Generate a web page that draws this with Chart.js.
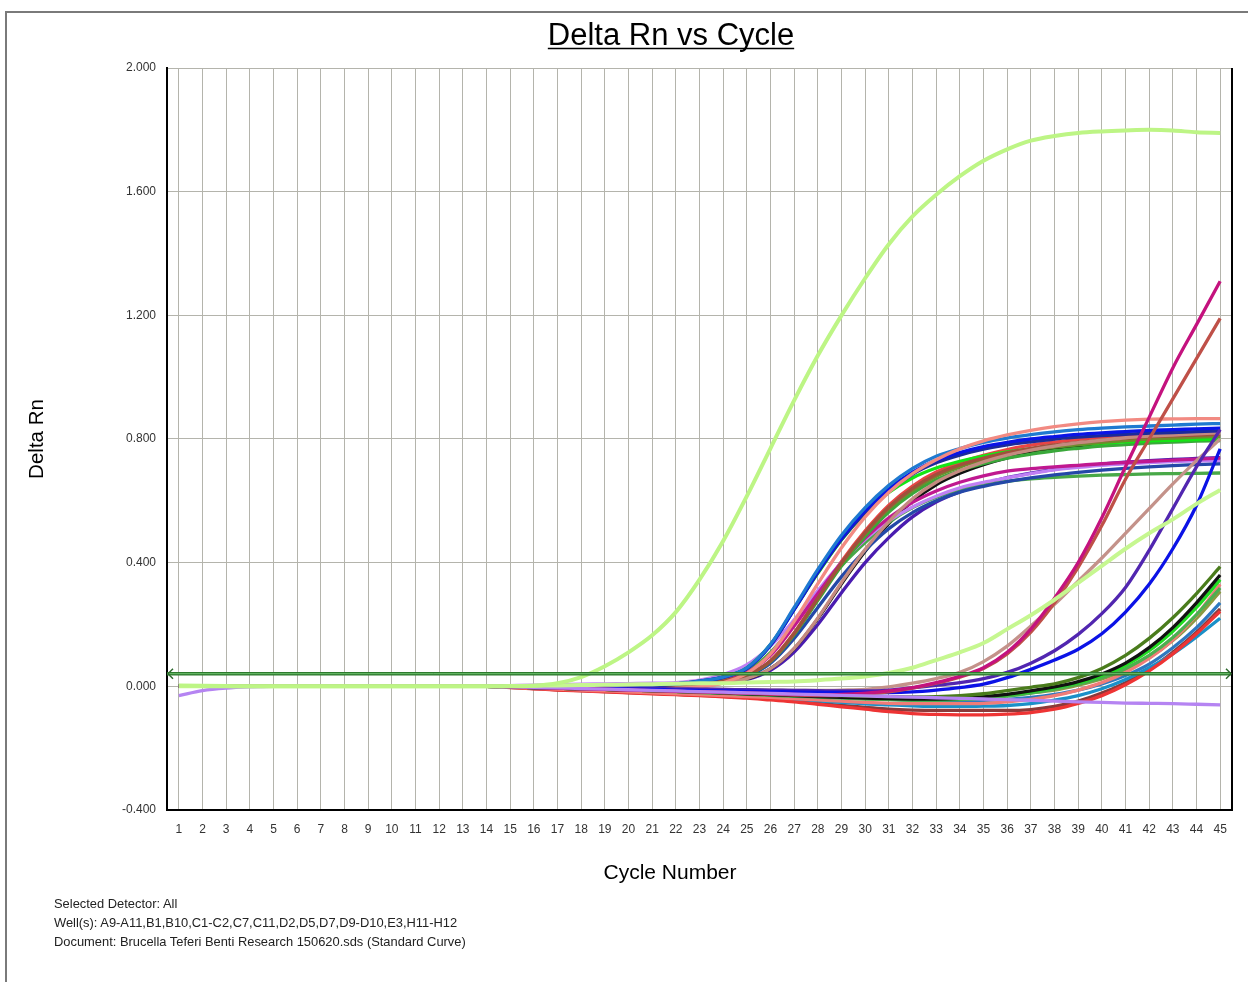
<!DOCTYPE html>
<html>
<head>
<meta charset="utf-8">
<title>Delta Rn vs Cycle</title>
<script src="https://cdn.jsdelivr.net/npm/chart.js@4.4.1/dist/chart.umd.min.js"></script>
<style>
  html, body { margin: 0; padding: 0; background: #fff; overflow: hidden; }
  #wrap { position: relative; width: 1248px; height: 982px; }
  #chart { position: absolute; left: 0; top: 0; }
  #frame { position: absolute; left: 5px; top: 11px; width: 1243px; height: 971px;
           border-top: 2px solid #7a7a7a; border-left: 2px solid #7a7a7a; box-sizing: border-box; pointer-events: none; }
  #info { position: absolute; left: 54px; top: 894px; font: 12.9px "Liberation Sans", Arial, sans-serif;
          color: #222; line-height: 19px; }
</style>
</head>
<body>
<div id="wrap">
  <canvas id="chart" width="1248" height="982"></canvas>
  <div id="frame"></div>
  <div id="info">
    <div>Selected Detector: All</div>
    <div>Well(s): A9-A11,B1,B10,C1-C2,C7,C11,D2,D5,D7,D9-D10,E3,H11-H12</div>
    <div>Document: Brucella Teferi Benti Research 150620.sds (Standard Curve)</div>
  </div>
</div>
<script>
// cycle numbers (x axis)
const cycles = [1,2,3,4,5,6,7,8,9,10,11,12,13,14,15,16,17,18,19,20,21,22,23,24,25,26,27,28,29,30,31,32,33,34,35,36,37,38,39,40,41,42,43,44,45];
const yTicks = [-0.4, 0, 0.4, 0.8, 1.2, 1.6, 2.0];
const thresholdValue = 0.041;

// early light green well
const lightGreenEarly = [0.003,0.002,0.001,0,0,0,0,0,0,0,0,0,0,0,
  0,0.002,0.01,0.03,0.065,0.11,0.165,0.24,
  0.345,0.47,0.615,0.77,0.925,1.07,1.2,1.32,
  1.43,1.52,1.59,1.65,1.70,1.737,1.765,1.78,
  1.79,1.795,1.798,1.80,1.798,1.792,1.79];
const lightGreenLate = [0,0,0,0,0,0,0,0,0,0,0,0,0,0,
  0.001,0.002,0.003,0.004,0.005,0.006,0.007,0.008,
  0.01,0.01,0.012,0.014,0.016,0.02,0.025,0.032,
  0.043,0.06,0.085,0.11,0.14,0.185,0.23,0.28,
  0.335,0.39,0.445,0.495,0.54,0.59,0.635];
const lavenderFlat = [-0.03,-0.014,-0.006,-0.002,0,0,0,0,0,0,0,0,0,0,
  -0.001,-0.003,-0.005,-0.007,-0.009,-0.011,-0.013,-0.015,
  -0.017,-0.019,-0.021,-0.023,-0.025,-0.027,-0.029,-0.031,
  -0.033,-0.035,-0.037,-0.039,-0.041,-0.043,-0.045,-0.048,
  -0.05,-0.052,-0.054,-0.055,-0.056,-0.058,-0.06];

// wells that plateau around 0.7 - 0.87
const salmonPlateau = [0,0,0,0,0,0,0,0,0,0,0,0,0,0,
  0,-0.002,-0.004,-0.006,-0.008,-0.01,-0.01,-0.008,
  -0.002,0.012,0.042,0.105,0.21,0.332,0.448,0.548,
  0.628,0.688,0.733,0.768,0.794,0.813,0.828,0.84,
  0.849,0.856,0.861,0.864,0.865,0.866,0.866];
const steelBluePlateau = [0,0,0,0,0,0,0,0,0,0,0,0,0,0,
  0,0,0.001,0.001,0.002,0.003,0.005,0.008,
  0.017,0.03,0.06,0.136,0.255,0.378,0.489,0.578,
  0.65,0.705,0.744,0.769,0.789,0.803,0.814,0.823,
  0.83,0.835,0.839,0.842,0.845,0.848,0.85];
const bluePlateau = [0,0,0,0,0,0,0,0,0,0,0,0,0,0,
  0,0,0,0.001,0.002,0.003,0.005,0.008,
  0.017,0.03,0.058,0.134,0.25,0.372,0.48,0.568,
  0.639,0.693,0.731,0.756,0.775,0.789,0.8,0.808,
  0.815,0.82,0.824,0.828,0.83,0.833,0.835];
const darkBluePlateau = [0,0,0,0,0,0,0,0,0,0,0,0,0,0,
  0,-0.001,-0.002,-0.002,-0.002,-0.001,0.002,0.006,
  0.015,0.029,0.058,0.132,0.248,0.368,0.475,0.562,
  0.632,0.686,0.723,0.748,0.767,0.781,0.791,0.8,
  0.806,0.811,0.815,0.819,0.821,0.824,0.826];
const rosyPlateau = [0,0,0,0,0,0,0,0,0,0,0,0,0,0,
  0,-0.002,-0.004,-0.006,-0.008,-0.009,-0.008,-0.006,
  -0.002,0.01,0.025,0.057,0.123,0.221,0.336,0.443,
  0.533,0.607,0.66,0.697,0.726,0.748,0.764,0.777,
  0.788,0.796,0.804,0.809,0.813,0.817,0.82];
const siennaPlateau = [0,0,0,0,0,0,0,0,0,0,0,0,0,0,
  0,-0.001,-0.002,-0.003,-0.004,-0.004,-0.002,0.002,
  0.008,0.018,0.037,0.082,0.171,0.285,0.399,0.497,
  0.579,0.64,0.685,0.716,0.738,0.756,0.77,0.781,
  0.789,0.796,0.802,0.807,0.81,0.813,0.815];
const olivePlateau = [0,0,0,0,0,0,0,0,0,0,0,0,0,0,
  0,0,-0.001,-0.002,-0.002,-0.002,0,0.003,
  0.009,0.018,0.036,0.081,0.17,0.283,0.396,0.493,
  0.574,0.634,0.679,0.709,0.732,0.75,0.764,0.774,
  0.782,0.789,0.795,0.8,0.803,0.806,0.808];
const limePlateau = [0,0,0,0,0,0,0,0,0,0,0,0,0,0,
  0,0,0,0.001,0.002,0.003,0.005,0.008,
  0.017,0.03,0.06,0.135,0.25,0.366,0.474,0.56,
  0.627,0.674,0.706,0.728,0.745,0.758,0.768,0.776,
  0.782,0.787,0.791,0.794,0.796,0.798,0.80];
const greenPlateau = [0,0,0,0,0,0,0,0,0,0,0,0,0,0,
  0,-0.001,-0.002,-0.003,-0.003,-0.002,0,0.003,
  0.009,0.017,0.036,0.08,0.167,0.278,0.39,0.485,
  0.564,0.624,0.668,0.698,0.72,0.738,0.751,0.762,
  0.77,0.777,0.782,0.787,0.79,0.793,0.795];
const magentaPlateau = [0,0,0,0,0,0,0,0,0,0,0,0,0,0,
  0,0,0.001,0.001,0.002,0.002,0.003,0.005,
  0.012,0.022,0.045,0.1,0.195,0.3,0.4,0.48,
  0.545,0.595,0.632,0.66,0.681,0.696,0.704,0.71,
  0.715,0.72,0.724,0.728,0.732,0.735,0.738];
const lavenderPlateau = [0,0,0,0,0,0,0,0,0,0,0,0,0,0,
  0.002,0.004,0.005,0.007,0.008,0.009,0.01,0.012,
  0.02,0.038,0.07,0.13,0.215,0.31,0.4,0.475,
  0.535,0.58,0.615,0.642,0.66,0.674,0.688,0.7,
  0.708,0.715,0.72,0.724,0.727,0.729,0.73];
const navyPlateau = [0,0,0,0,0,0,0,0,0,0,0,0,0,0,
  0,0,-0.001,-0.001,-0.001,0,0.001,0.003,
  0.008,0.016,0.033,0.075,0.155,0.255,0.355,0.44,
  0.51,0.562,0.6,0.628,0.647,0.662,0.674,0.684,
  0.692,0.699,0.705,0.71,0.714,0.717,0.72];
const greenLowPlateau = [0,0,0,0,0,0,0,0,0,0,0,0,0,0,
  0,0,0,0.001,0.002,0.003,0.005,0.008,
  0.014,0.025,0.05,0.11,0.2,0.3,0.39,0.465,
  0.53,0.578,0.612,0.636,0.652,0.663,0.671,0.676,
  0.68,0.683,0.685,0.687,0.688,0.689,0.69];
const blackPlateau = [0,0,0,0,0,0,0,0,0,0,0,0,0,0,
  0,-0.002,-0.003,-0.004,-0.005,-0.005,-0.004,-0.002,
  0.004,0.012,0.024,0.057,0.122,0.219,0.332,0.437,
  0.527,0.599,0.652,0.689,0.717,0.739,0.755,0.768,
  0.778,0.787,0.794,0.799,0.804,0.807,0.81];
const redPlateau = [0,0,0,0,0,0,0,0,0,0,0,0,0,0,
  0,-0.002,-0.003,-0.005,-0.006,-0.006,-0.004,0,
  0.006,0.018,0.037,0.083,0.173,0.289,0.404,0.503,
  0.586,0.648,0.693,0.724,0.747,0.766,0.78,0.79,
  0.799,0.806,0.812,0.817,0.82,0.823,0.825];
const indigoPlateau = [0,0,0,0,0,0,0,0,0,0,0,0,0,0,
  0,-0.001,-0.002,-0.003,-0.004,-0.004,-0.003,-0.001,
  0.004,0.011,0.022,0.052,0.111,0.2,0.303,0.4,
  0.481,0.548,0.596,0.629,0.655,0.675,0.69,0.702,
  0.711,0.719,0.725,0.73,0.734,0.737,0.74];

// wells rising after cycle 33
const magentaLate = [0,0,0,0,0,0,0,0,0,0,0,0,0,0,
  -0.002,-0.004,-0.006,-0.008,-0.01,-0.012,-0.014,-0.016,
  -0.018,-0.02,-0.022,-0.024,-0.026,-0.027,-0.026,-0.022,
  -0.015,-0.004,0.012,0.032,0.06,0.11,0.185,0.285,
  0.4,0.545,0.71,0.87,1.03,1.17,1.31];
const brownLate = [0,0,0,0,0,0,0,0,0,0,0,0,0,0,
  -0.002,-0.004,-0.006,-0.008,-0.01,-0.012,-0.014,-0.016,
  -0.018,-0.02,-0.022,-0.025,-0.028,-0.03,-0.029,-0.025,
  -0.018,-0.006,0.01,0.03,0.058,0.105,0.175,0.27,
  0.385,0.52,0.67,0.8,0.93,1.06,1.19];
const blueLate = [0,0,0,0,0,0,0,0,0,0,0,0,0,0,
  -0.002,-0.004,-0.005,-0.006,-0.008,-0.009,-0.01,-0.012,
  -0.013,-0.015,-0.016,-0.017,-0.018,-0.019,-0.02,-0.02,
  -0.02,-0.018,-0.012,-0.004,0.007,0.028,0.055,0.085,
  0.12,0.17,0.24,0.33,0.445,0.585,0.768];
const indigoLate = [0,0,0,0,0,0,0,0,0,0,0,0,0,0,
  -0.001,-0.002,-0.003,-0.004,-0.005,-0.006,-0.007,-0.008,
  -0.009,-0.01,-0.011,-0.012,-0.013,-0.014,-0.015,-0.015,
  -0.012,-0.005,0.003,0.012,0.025,0.045,0.075,0.115,
  0.168,0.235,0.32,0.44,0.575,0.71,0.83];
const tanLate = [0,0,0,0,0,0,0,0,0,0,0,0,0,0,
  -0.001,-0.002,-0.003,-0.004,-0.005,-0.006,-0.007,-0.008,
  -0.009,-0.01,-0.011,-0.012,-0.013,-0.013,-0.012,-0.01,
  -0.002,0.01,0.025,0.045,0.08,0.13,0.195,0.265,
  0.34,0.415,0.495,0.575,0.655,0.73,0.80];

// wells rising after cycle 38
const darkOliveLate = [0,0,0,0,0,0,0,0,0,0,0,0,0,0,
  -0.002,-0.004,-0.006,-0.008,-0.01,-0.012,-0.014,-0.016,
  -0.018,-0.02,-0.022,-0.024,-0.026,-0.028,-0.03,-0.032,
  -0.033,-0.034,-0.033,-0.03,-0.024,-0.014,-0.003,0.008,
  0.028,0.058,0.1,0.155,0.222,0.3,0.387];
const blackLate = [0,0,0,0,0,0,0,0,0,0,0,0,0,0,
  -0.002,-0.004,-0.006,-0.008,-0.01,-0.012,-0.014,-0.016,
  -0.018,-0.021,-0.024,-0.027,-0.03,-0.033,-0.036,-0.038,
  -0.04,-0.041,-0.041,-0.039,-0.034,-0.026,-0.015,-0.002,
  0.015,0.04,0.075,0.125,0.19,0.27,0.36];
const limeLate = [0,0,0,0,0,0,0,0,0,0,0,0,0,0,
  -0.002,-0.004,-0.006,-0.008,-0.01,-0.012,-0.014,-0.016,
  -0.018,-0.02,-0.022,-0.024,-0.026,-0.029,-0.032,-0.035,
  -0.037,-0.039,-0.04,-0.038,-0.034,-0.027,-0.017,-0.004,
  0.012,0.035,0.068,0.115,0.178,0.255,0.345];
const greenLate = [0,0,0,0,0,0,0,0,0,0,0,0,0,0,
  -0.002,-0.004,-0.006,-0.008,-0.01,-0.012,-0.014,-0.017,
  -0.02,-0.023,-0.026,-0.029,-0.032,-0.035,-0.038,-0.041,
  -0.043,-0.045,-0.045,-0.043,-0.039,-0.032,-0.022,-0.009,
  0.007,0.028,0.058,0.1,0.158,0.232,0.318];
const salmonLate = [0,0,0,0,0,0,0,0,0,0,0,0,0,0,
  -0.003,-0.006,-0.009,-0.012,-0.015,-0.018,-0.021,-0.024,
  -0.027,-0.03,-0.033,-0.036,-0.04,-0.044,-0.048,-0.052,
  -0.055,-0.056,-0.056,-0.056,-0.055,-0.05,-0.042,-0.03,
  -0.012,0.012,0.045,0.09,0.15,0.23,0.33];
const oliveLate = [0,0,0,0,0,0,0,0,0,0,0,0,0,0,
  -0.002,-0.004,-0.006,-0.008,-0.01,-0.012,-0.014,-0.016,
  -0.018,-0.02,-0.023,-0.026,-0.029,-0.032,-0.035,-0.037,
  -0.039,-0.04,-0.04,-0.038,-0.034,-0.028,-0.021,-0.012,
  0.004,0.024,0.052,0.093,0.148,0.22,0.307];
const steelBlueLate = [0,0,0,0,0,0,0,0,0,0,0,0,0,0,
  -0.002,-0.004,-0.006,-0.008,-0.01,-0.012,-0.014,-0.016,
  -0.018,-0.021,-0.024,-0.027,-0.03,-0.033,-0.036,-0.039,
  -0.042,-0.044,-0.045,-0.046,-0.045,-0.042,-0.036,-0.026,
  -0.012,0.008,0.035,0.072,0.125,0.19,0.27];
const redLate = [0,0,0,0,0,0,0,0,0,0,0,0,0,0,
  -0.004,-0.008,-0.012,-0.015,-0.018,-0.021,-0.024,-0.027,
  -0.03,-0.034,-0.038,-0.044,-0.05,-0.058,-0.066,-0.074,
  -0.082,-0.088,-0.091,-0.092,-0.092,-0.09,-0.085,-0.074,
  -0.055,-0.03,0.005,0.05,0.105,0.17,0.243];
const tealLate = [0,0,0,0,0,0,0,0,0,0,0,0,0,0,
  -0.003,-0.006,-0.009,-0.012,-0.015,-0.018,-0.021,-0.024,
  -0.027,-0.03,-0.034,-0.038,-0.042,-0.047,-0.052,-0.057,
  -0.06,-0.063,-0.065,-0.065,-0.064,-0.062,-0.056,-0.045,
  -0.03,-0.008,0.022,0.06,0.105,0.16,0.22];
const maroonLate = [0,0,0,0,0,0,0,0,0,0,0,0,0,0,
  -0.003,-0.007,-0.011,-0.014,-0.017,-0.02,-0.023,-0.026,
  -0.029,-0.032,-0.036,-0.041,-0.048,-0.055,-0.062,-0.068,
  -0.074,-0.077,-0.078,-0.078,-0.078,-0.078,-0.075,-0.065,
  -0.048,-0.022,0.012,0.055,0.11,0.175,0.25];

const FONT = '"Liberation Sans", Arial, sans-serif';

// first in list = drawn on top
const curves = [
  [lightGreenEarly, '#bdf585'],
  [lightGreenLate, '#c6f790'],
  [lavenderFlat, '#b584f2'],
  [magentaLate, '#c4127e'],
  [brownLate, '#bf5048'],
  [blueLate, '#0b12e6'],
  [indigoLate, '#5126b0'],
  [tanLate, '#c4928a'],
  [darkOliveLate, '#4a7c1c'],
  [blackLate, '#111111'],
  [limeLate, '#22dd22'],
  [greenLate, '#4caf50'],
  [salmonLate, '#f07c78'],
  [oliveLate, '#8a9a40'],
  [steelBlueLate, '#2e78c0'],
  [redLate, '#ee3434'],
  [tealLate, '#1a90c8'],
  [maroonLate, '#8b3a3a'],
  [salmonPlateau, '#f28a82'],
  [steelBluePlateau, '#1f7ad0'],
  [bluePlateau, '#0a14e6'],
  [darkBluePlateau, '#1b2a9a'],
  [rosyPlateau, '#c48a80'],
  [siennaPlateau, '#a0503c'],
  [olivePlateau, '#6e8c2e'],
  [limePlateau, '#14e614'],
  [greenPlateau, '#3aa83a'],
  [magentaPlateau, '#c01890'],
  [lavenderPlateau, '#c080f4'],
  [navyPlateau, '#2448a8'],
  [greenLowPlateau, '#48a848'],
  [blackPlateau, '#101010'],
  [redPlateau, '#e84545'],
  [indigoPlateau, '#4a1cb0']
];

const xMin = 0.5, xMax = 45.5;

const datasets = [
  {
    label: 'Threshold core',
    data: [{x: xMin, y: thresholdValue}, {x: xMax, y: thresholdValue}],
    borderColor: '#6cc06c', borderWidth: 1, pointRadius: 0, order: -2
  },
  {
    label: 'Threshold',
    data: [{x: xMin, y: thresholdValue}, {x: xMax, y: thresholdValue}],
    borderColor: '#2e7a2e', borderWidth: 3.5, pointRadius: 0, order: -1
  }
];
curves.forEach(function (c, i) {
  datasets.push({
    label: 'Well ' + (i + 1),
    data: c[0],
    borderColor: c[1],
    borderWidth: i < 2 ? 4 : 3.3,
    pointRadius: 0,
    fill: false,
    cubicInterpolationMode: 'monotone'
  });
});

const decorations = {
  id: 'decorations',
  afterDraw(chart) {
    const ctx = chart.ctx;
    const area = chart.chartArea;
    const xs = chart.scales.x, ys = chart.scales.y;
    ctx.save();
    // right border of plot
    ctx.strokeStyle = '#000';
    ctx.lineWidth = 2;
    ctx.beginPath();
    ctx.moveTo(area.right, area.top);
    ctx.lineTo(area.right, area.bottom + 1);
    ctx.stroke();
    // threshold arrow heads
    const ty = ys.getPixelForValue(thresholdValue);
    const lx = xs.getPixelForValue(xMin), rx = xs.getPixelForValue(xMax);
    ctx.strokeStyle = '#2e6a2e';
    ctx.lineWidth = 1.5;
    ctx.beginPath();
    ctx.moveTo(lx + 6, ty - 5); ctx.lineTo(lx + 1, ty); ctx.lineTo(lx + 6, ty + 5);
    ctx.moveTo(rx - 6, ty - 5); ctx.lineTo(rx - 1, ty); ctx.lineTo(rx - 6, ty + 5);
    ctx.stroke();
    // title, underlined
    ctx.fillStyle = '#000';
    ctx.font = '31px ' + FONT;
    ctx.textAlign = 'center';
    ctx.textBaseline = 'alphabetic';
    const title = 'Delta Rn vs Cycle';
    const tx = 671, tyy = 45;
    ctx.fillText(title, tx, tyy);
    const w = ctx.measureText(title).width;
    ctx.lineWidth = 1.5;
    ctx.strokeStyle = '#000';
    ctx.beginPath();
    ctx.moveTo(tx - w / 2, tyy + 3.5);
    ctx.lineTo(tx + w / 2, tyy + 3.5);
    ctx.stroke();
    // x axis title
    ctx.font = '21px ' + FONT;
    ctx.textBaseline = 'middle';
    ctx.fillText('Cycle Number', 670, 873);
    ctx.restore();
  }
};

new Chart(document.getElementById('chart'), {
  type: 'line',
  data: { labels: cycles, datasets: datasets },
  options: {
    responsive: false,
    animation: false,
    devicePixelRatio: 1,
    layout: { padding: { left: 0, top: 68, right: 16, bottom: 100 } },
    plugins: { legend: { display: false }, tooltip: { enabled: false }, title: { display: false } },
    scales: {
      x: {
        type: 'linear',
        min: xMin,
        max: xMax,
        afterBuildTicks: function (scale) {
          scale.ticks = cycles.map(function (c) { return { value: c }; });
        },
        afterFit: function (scale) { scale.height = 72; },
        grid: { color: '#b4b4ac', lineWidth: 1, drawTicks: false },
        border: { color: '#000', width: 2 },
        ticks: { padding: 12, color: '#333', font: { size: 12, family: FONT }, autoSkip: false, maxRotation: 0,
                 callback: function (v) { return String(v); } }
      },
      y: {
        min: yTicks[0],
        max: yTicks[yTicks.length - 1],
        afterBuildTicks: function (scale) {
          scale.ticks = yTicks.map(function (v) { return { value: v }; });
        },
        afterFit: function (scale) { scale.width = 167; },
        grid: { color: '#b4b4ac', lineWidth: 1, drawTicks: false },
        border: { color: '#000', width: 2 },
        ticks: { padding: 11, color: '#333', font: { size: 12, family: FONT },
                 callback: function (v) { return Number(v).toFixed(3); } },
        title: { display: true, text: 'Delta Rn', color: '#000', font: { size: 20.5, family: FONT },
                 padding: { top: 25, bottom: 0 } }
      }
    }
  },
  plugins: [decorations]
});
</script>
</body>
</html>
